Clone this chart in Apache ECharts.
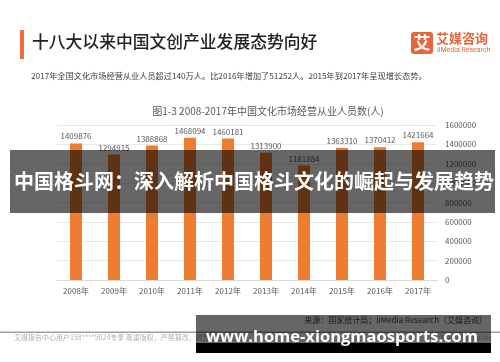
<!DOCTYPE html>
<html>
<head>
<meta charset="utf-8">
<script src="https://cdn.jsdelivr.net/npm/echarts@6/dist/echarts.min.js"></script>
<style>
html,body{margin:0;padding:0;background:#fff;}
#c{width:500px;height:362px;}
</style>
</head>
<body>
<div id="c"></div>
<script>
const categories = ['2008年','2009年','2010年','2011年','2012年','2013年','2014年','2015年','2016年','2017年'];
const employees = [1409876, 1294915, 1388868, 1468094, 1460181, 1313900, 1181884, 1363310, 1370412, 1421664];
const yTicks = { min: 0, max: 1600000, interval: 200000 };

const CJK = '"Noto Sans CJK SC", "Noto Sans", sans-serif';
const chart = echarts.init(document.getElementById('c'), null, { renderer: 'canvas' });

chart.setOption({
  backgroundColor: '#ffffff',
  animation: false,
  title: {
    text: '图1-3 2008-2017年中国文化市场经营从业人员数(人)',
    left: 263, top: 101, textAlign: 'center',
    textStyle: { fontFamily: CJK, fontSize: 10, fontWeight: 'normal', color: '#595959' }
  },
  grid: { left: 57, right: 63, top: 125, bottom: 82 },
  xAxis: {
    type: 'category',
    data: categories,
    axisLine: { lineStyle: { color: '#d9d9d9' } },
    axisTick: { show: false },
    axisLabel: { fontFamily: CJK, fontSize: 8, color: '#595959', margin: 7 }
  },
  yAxis: {
    type: 'value',
    position: 'right',
    min: yTicks.min, max: yTicks.max, interval: yTicks.interval,
    axisLine: { show: false },
    axisTick: { show: false },
    axisLabel: { fontFamily: CJK, fontSize: 8, color: '#595959', margin: 8, formatter: v => String(v) },
    splitLine: { lineStyle: { color: '#e8e8e8' } }
  },
  series: [{
    type: 'bar',
    data: employees,
    barWidth: 12,
    itemStyle: { color: '#ED7D31' },
    label: { show: true, position: 'top', distance: 3, fontFamily: CJK, fontSize: 8, color: '#595959', formatter: p => String(p.value) }
  }],
  graphic: [
    { type: 'rect', shape: { x: 20, y: 30, width: 4, height: 29 }, style: { fill: '#F26B3A' } },
    { type: 'text', left: 32, top: 33, style: { text: '十八大以来中国文创产业发展态势向好', fontFamily: CJK, fontSize: 16.8, fontWeight: 500, fill: '#222' } },
    { type: 'text', left: 31, top: 72, style: { text: '2017年全国文化市场经营从业人员超过140万人。比2016年增加了51252人。2015年到2017年呈现增长态势。', fontFamily: CJK, fontSize: 8.2, fill: '#404040' } },
    { type: 'rect', shape: { x: 411, y: 32, width: 22, height: 22, r: 3 }, style: { fill: '#E8663D' } },
    { type: 'text', x: 422, y: 43, style: { text: '艾', fontFamily: CJK, fontSize: 17, fontWeight: 'bold', fill: '#fff', align: 'center', verticalAlign: 'middle' } },
    { type: 'text', left: 436, top: 32, style: { text: '艾媒咨询', fontFamily: CJK, fontSize: 13, fontWeight: 'bold', fill: '#E8663D' } },
    { type: 'text', left: 437, top: 47, style: { text: 'iiMedia Research', fontFamily: 'Roboto, sans-serif', fontSize: 7, fill: '#E8663D' } },
    { type: 'text', right: 13, top: 316, style: { text: '来源：国家统计局；iiMedia Research（艾媒咨询）', fontFamily: CJK, fontSize: 8, fill: '#404040' } },
    { type: 'rect', shape: { x: 0, y: 331.5, width: 500, height: 1.5 }, style: { fill: '#a0a0a0' } },
    { type: 'text', left: 14, top: 334, style: { text: '艾媒报告中心用户158****5024专享 尊重版权，严禁篡改，转售等侵权行为', fontFamily: CJK, fontSize: 7, fill: '#b0b0b0' } },
    { type: 'text', right: 8, top: 334, style: { text: '©2018 iiMedia Inc', fontFamily: CJK, fontSize: 7, fill: '#b0b0b0' } },
    { type: 'rect', z: 100, shape: { x: 10, y: 150, width: 485, height: 63 }, style: { fill: 'rgba(0,0,0,0.6)' } },
    { type: 'text', z: 101, x: 254, y: 181, style: { text: '中国格斗网：深入解析中国格斗文化的崛起与发展趋势', fontFamily: CJK, fontSize: 20, fontWeight: 'bold', fill: '#fff', align: 'center', verticalAlign: 'middle' } },
    { type: 'rect', z: 100, shape: { x: 196, y: 315, width: 295, height: 28 }, style: { fill: 'rgba(0,0,0,0.6)' } },
    { type: 'rect', z: 100, shape: { x: 196, y: 343, width: 295, height: 10 }, style: { fill: '#000' } },
    { type: 'text', z: 101, x: 342, y: 337, style: { text: 'www.home-xiongmaosports.com', fontFamily: '"Open Sans", "Noto Sans", sans-serif', fontSize: 16.5, fontWeight: 'bold', fill: '#fff', align: 'center', verticalAlign: 'middle' } }
  ]
});
</script>
</body>
</html>
